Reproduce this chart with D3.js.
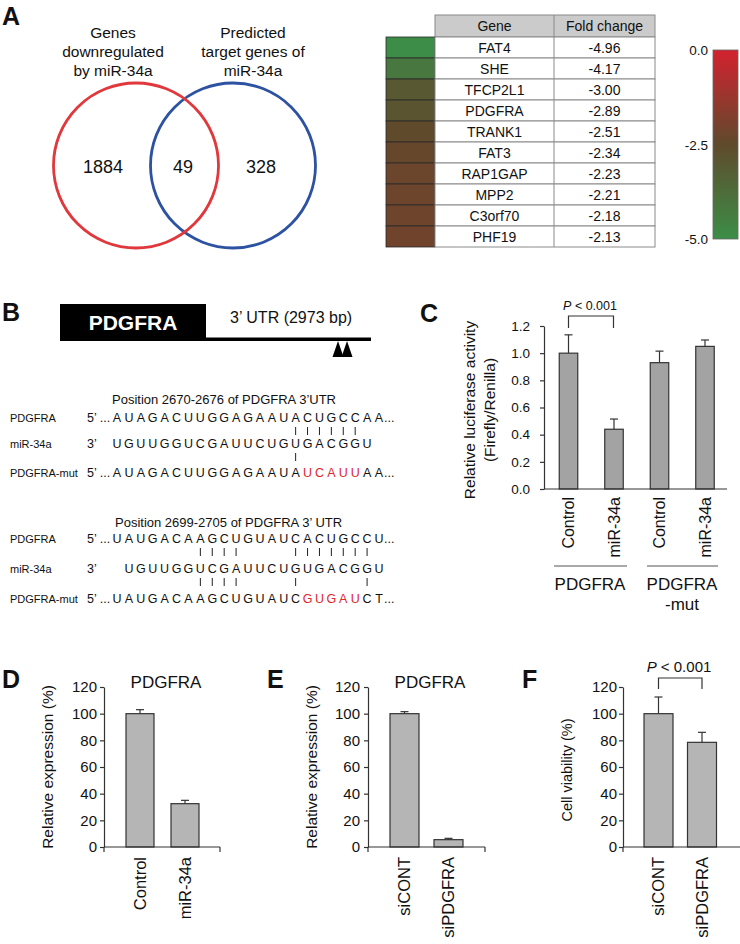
<!DOCTYPE html>
<html><head><meta charset="utf-8">
<script src="https://cdn.jsdelivr.net/npm/d3@7"></script>
<style>
body{margin:0;background:#fff}
svg{display:block}
text{font-family:"Liberation Sans",Arial,Helvetica,sans-serif;fill:#111}
</style>
</head><body>
<svg id="fig" width="740" height="944"></svg>
<script>
// ---------------- DATA ----------------
const vennLabels = [["Genes", "downregulated", "by miR-34a"], ["Predicted", "target genes of", "miR-34a"]];
const vennCounts = [1884, 49, 328];

const genes = ["FAT4", "SHE", "TFCP2L1", "PDGFRA", "TRANK1", "FAT3", "RAP1GAP", "MPP2", "C3orf70", "PHF19"];
const foldChanges = [-4.96, -4.17, -3.00, -2.89, -2.51, -2.34, -2.23, -2.21, -2.18, -2.13];
const tableHeader = ["Gene", "Fold change"];
const colorbarTicks = [0.0, -2.5, -5.0];

const site1Title = "Position 2670-2676 of PDGFRA 3\u2019UTR";
const site1Target = "AUAGACUUGGAGAAUACUGCCAA";
const site1Mir = "UGUUGGUCGAUUCUGUGACGGU";
const site1Mut = "AUAGACUUGGAGAAUAUCAUUAA";
const site1MutRed = [16, 17, 18, 19, 20];
const site1Pairs = [15, 16, 17, 18, 19, 20];
const site1MutPairs = [15];

const site2Title = "Position 2699-2705 of PDGFRA 3\u2019 UTR";
const site2Target = "UAUGACAAGCUGUAUCACUGCCU";
const site2Mir = "UGUUGGUCGAUUCUGUGACGGU";
const site2Mut = "UAUGACAAGCUGUAUCGUGAUCT";
const site2MutRed = [16, 17, 18, 19, 20];
const site2Pairs = [7, 8, 9, 10, 15, 16, 17, 18, 19, 20, 21];
const site2MutPairs = [7, 8, 9, 10, 15, 21];
const seqRowLabels = ["PDGFRA", "miR-34a", "PDGFRA-mut"];

const lucCategories = ["wt-Control", "wt-miR-34a", "mut-Control", "mut-miR-34a"];
const lucLabels = ["Control", "miR-34a", "Control", "miR-34a"];
const lucValues = [1.00, 0.44, 0.93, 1.05];
const lucErrors = [0.135, 0.075, 0.085, 0.047];
const lucTicks = [0, 0.2, 0.4, 0.6, 0.8, 1.0, 1.2];
const lucGroups = [["PDGFRA"], ["PDGFRA", "-mut"]];

const dCategories = ["Control", "miR-34a"];
const dValues = [100, 32.5];
const dErrors = [3, 2.5];
const eCategories = ["siCONT", "siPDGFRA"];
const eValues = [100, 5.5];
const eErrors = [1.5, 1];
const fCategories = ["siCONT", "siPDGFRA"];
const fValues = [100, 78.5];
const fErrors = [12.5, 7.5];
const pctTicks = [0, 20, 40, 60, 80, 100, 120];

// ---------------- DRAW ----------------
const svg = d3.select("#fig");
const FONT = '"Liberation Sans",Arial,Helvetica,sans-serif';

function panelLetter(t, x, y) {
  svg.append("text").attr("x", x).attr("y", y).attr("font-size", 25).attr("font-weight", "bold").text(t);
}

// ===== Panel A: Venn =====
panelLetter("A", 2, 25);
const vx = d3.scaleLinear().domain([0, 1]).range([136, 233]);
const vr = 82.5, vcy = 165.5;
[[1, "#2e52a2"], [0, "#e0383c"]].forEach(([i, c]) => {
  svg.append("circle").attr("cx", vx(i)).attr("cy", vcy).attr("r", vr)
    .attr("fill", "none").attr("stroke", c).attr("stroke-width", 2.8);
});
[113, 253].forEach((cx, k) => {
  vennLabels[k].forEach((line, j) => {
    svg.append("text").attr("x", cx).attr("y", 38 + j * 19).attr("text-anchor", "middle")
      .attr("font-size", 15.5).text(line);
  });
});
const vennNumPos = [-0.34, 0.485, 1.29];
vennCounts.forEach((n, i) => {
  svg.append("text").attr("x", vx(vennNumPos[i])).attr("y", 173).attr("text-anchor", "middle")
    .attr("font-size", 18).text(n);
});

// ===== Table =====
const rowY = d3.scaleBand().domain(genes).range([37, 247]);
const colEdges = [435, 554, 655];
const swX0 = 386, swX1 = 435;
const heat = d3.scaleLinear().domain([-5, -2.5, 0]).range(["#3c8e48", "#5f4a2c", "#d3222f"]);
svg.append("rect").attr("x", colEdges[0]).attr("y", 15).attr("width", colEdges[2] - colEdges[0]).attr("height", 22)
  .attr("fill", "#cbcbcb").attr("stroke", "#8a8a8a").attr("stroke-width", 1);
tableHeader.forEach((h, i) => {
  svg.append("text").attr("x", (colEdges[i] + colEdges[i + 1]) / 2).attr("y", 31).attr("text-anchor", "middle")
    .attr("font-size", 14).text(h);
});
genes.forEach((g, i) => {
  const y = rowY(g), h = rowY.bandwidth();
  svg.append("rect").attr("x", swX0).attr("y", y).attr("width", swX1 - swX0).attr("height", h)
    .attr("fill", heat(foldChanges[i])).attr("stroke", "#2a2a2a").attr("stroke-width", 0.8);
  svg.append("rect").attr("x", colEdges[0]).attr("y", y).attr("width", colEdges[2] - colEdges[0]).attr("height", h)
    .attr("fill", "#fff").attr("stroke", "#8a8a8a").attr("stroke-width", 1);
  svg.append("text").attr("x", (colEdges[0] + colEdges[1]) / 2).attr("y", y + h / 2 + 5).attr("text-anchor", "middle")
    .attr("font-size", 14).text(g);
  svg.append("text").attr("x", (colEdges[1] + colEdges[2]) / 2).attr("y", y + h / 2 + 5).attr("text-anchor", "middle")
    .attr("font-size", 14).text(foldChanges[i].toFixed(2));
});
svg.append("line").attr("x1", colEdges[1]).attr("x2", colEdges[1]).attr("y1", 15).attr("y2", 247)
  .attr("stroke", "#8a8a8a").attr("stroke-width", 1);

// colorbar
const cbY = d3.scaleLinear().domain([0, -5]).range([50, 239]);
const defs = svg.append("defs");
const grad = defs.append("linearGradient").attr("id", "cb").attr("x1", 0).attr("y1", 0).attr("x2", 0).attr("y2", 1);
d3.range(0, 1.0001, 0.1).forEach(t => {
  grad.append("stop").attr("offset", t).attr("stop-color", heat(-5 * t));
});
svg.append("rect").attr("x", 713).attr("y", cbY(0)).attr("width", 25).attr("height", cbY(-5) - cbY(0))
  .attr("fill", "url(#cb)").attr("stroke", "#666").attr("stroke-width", 0.8);
colorbarTicks.forEach(t => {
  svg.append("text").attr("x", 708).attr("y", cbY(t) + 5).attr("text-anchor", "end").attr("font-size", 13.5).text(t.toFixed(1));
});

// ===== Panel B =====
panelLetter("B", 2, 321);
svg.append("rect").attr("x", 60).attr("y", 304).attr("width", 146).attr("height", 37).attr("fill", "#000");
svg.append("text").attr("x", 133).attr("y", 330).attr("text-anchor", "middle").attr("font-size", 21)
  .attr("font-weight", "bold").style("fill", "#fff").text("PDGFRA");
svg.append("rect").attr("x", 206).attr("y", 337.5).attr("width", 165).attr("height", 3.5).attr("fill", "#000");
svg.append("text").attr("x", 230).attr("y", 323).attr("font-size", 16).text("3\u2019 UTR (2973 bp)");
[338, 347].forEach(ax => {
  svg.append("path").attr("d", `M${ax},341 L${ax - 5.5},357 L${ax + 5.5},357 Z`).attr("fill", "#000");
});

const sx = d3.scaleLinear().domain([0, 22]).range([117, 379]);
function seqBlock(o) {
  svg.append("text").attr("x", o.titleX).attr("y", o.titleY).attr("font-size", 13).text(o.title);
  const ys = o.rowY;
  seqRowLabels.forEach((l, i) => {
    svg.append("text").attr("x", 10).attr("y", ys[i]).attr("font-size", 11).text(l);
  });
  svg.append("text").attr("x", 87).attr("y", ys[0]).attr("font-size", 12.5).text("5\u2019 ...");
  svg.append("text").attr("x", 87).attr("y", ys[1]).attr("font-size", 12.5).text("3\u2019");
  svg.append("text").attr("x", 87).attr("y", ys[2]).attr("font-size", 12.5).text("5\u2019 ...");
  const drawSeq = (s, y, off, red) => {
    s.split("").forEach((ch, i) => {
      svg.append("text").attr("x", sx(i + off)).attr("y", y).attr("text-anchor", "middle").attr("font-size", 12.5)
        .style("fill", red && red.includes(i) ? "#e0262b" : "#111").text(ch);
    });
  };
  drawSeq(o.target, ys[0], 0);
  svg.append("text").attr("x", sx(22) + 5).attr("y", ys[0]).attr("font-size", 12.5).text("...");
  drawSeq(o.mir, ys[1], o.mirOffset);
  drawSeq(o.mut, ys[2], 0, o.red);
  svg.append("text").attr("x", sx(22) + 5).attr("y", ys[2]).attr("font-size", 12.5).text("...");
  o.pairs.forEach(i => {
    svg.append("line").attr("x1", sx(i)).attr("x2", sx(i)).attr("y1", ys[0] + 5).attr("y2", ys[0] + 13)
      .attr("stroke", "#222").attr("stroke-width", 1);
  });
  o.mutPairs.forEach(i => {
    svg.append("line").attr("x1", sx(i)).attr("x2", sx(i)).attr("y1", ys[1] + 5).attr("y2", ys[1] + 13)
      .attr("stroke", "#222").attr("stroke-width", 1);
  });
}
seqBlock({ title: site1Title, titleX: 112, titleY: 404, rowY: [422, 448, 477], target: site1Target, mir: site1Mir,
  mut: site1Mut, red: site1MutRed, pairs: site1Pairs, mutPairs: site1MutPairs, mirOffset: 0 });
seqBlock({ title: site2Title, titleX: 115, titleY: 527, rowY: [543, 573, 603], target: site2Target, mir: site2Mir,
  mut: site2Mut, red: site2MutRed, pairs: site2Pairs, mutPairs: site2MutPairs, mirOffset: 1 });

// ===== Bar panel helper =====
function barPanel(o) {
  const y = d3.scaleLinear().domain([0, o.max]).range([o.yBottom, o.yTop]);
  const x = d3.scalePoint().domain(o.cats).range(o.centerRange);
  const g = svg.append("g");
  g.selectAll("rect.bar").data(o.values).join("rect").attr("class", "bar")
    .attr("x", (d, i) => x(o.cats[i]) - o.barW / 2).attr("y", d => y(d))
    .attr("width", o.barW).attr("height", d => y(0) - y(d))
    .attr("fill", o.fill).attr("stroke", "#333").attr("stroke-width", 1.2);
  o.values.forEach((v, i) => {
    const cx = x(o.cats[i]), yt = y(v + o.errors[i]);
    g.append("line").attr("x1", cx).attr("x2", cx).attr("y1", y(v)).attr("y2", yt).attr("stroke", "#333").attr("stroke-width", 1.2);
    g.append("line").attr("x1", cx - 4).attr("x2", cx + 4).attr("y1", yt).attr("y2", yt).attr("stroke", "#333").attr("stroke-width", 1.2);
  });
  const ax = g.append("g").attr("transform", `translate(${o.axisX},0)`)
    .call(d3.axisLeft(y).tickValues(o.ticks).tickFormat(o.fmt).tickSize(4).tickSizeOuter(0).tickPadding(o.pad));
  ax.attr("font-family", FONT).attr("font-size", o.tickFont);
  ax.selectAll("text").style("fill", "#111");
  ax.selectAll("line,path").attr("stroke", "#333").attr("stroke-width", 1.2);
  g.append("line").attr("x1", o.axisX).attr("x2", o.xEnd).attr("y1", y(0)).attr("y2", y(0)).attr("stroke", "#333").attr("stroke-width", 1.2);
  (o.endTicks || []).forEach(tx => {
    g.append("line").attr("x1", tx).attr("x2", tx).attr("y1", y(0)).attr("y2", y(0) + 5).attr("stroke", "#333").attr("stroke-width", 1.2);
  });
  o.labels.forEach((l, i) => {
    g.append("text").attr("transform", `translate(${x(o.cats[i])},${o.labelTop}) rotate(-90)`)
      .attr("text-anchor", "end").attr("dy", "0.35em").attr("font-size", o.labelFont).text(l);
  });
  o.ylabel.forEach((l, j) => {
    g.append("text").attr("transform", `translate(${o.ylabelX[j]},${o.ylabelY}) rotate(-90)`)
      .attr("text-anchor", "middle").attr("dy", "0.35em").attr("font-size", o.ylabelFont).text(l);
  });
  return { x, y };
}

function pBracket(x1, x2, yTop, yLeg, tx, ty, fs) {
  svg.append("path").attr("d", `M${x1},${yLeg} V${yTop} H${x2} V${yLeg}`).attr("fill", "none")
    .attr("stroke", "#333").attr("stroke-width", 1.2);
  const t = svg.append("text").attr("x", tx).attr("y", ty).attr("text-anchor", "middle").attr("font-size", fs);
  t.append("tspan").attr("font-style", "italic").text("P");
  t.append("tspan").text(" < 0.001");
}

// ===== Panel C =====
panelLetter("C", 420, 322);
barPanel({
  max: 1.2, yBottom: 489, yTop: 326, cats: lucCategories, labels: lucLabels, values: lucValues, errors: lucErrors,
  centerRange: [568.5, 705], barW: 18.5, fill: "#a3a3a3", axisX: 544, xEnd: 727, ticks: lucTicks,
  fmt: d3.format(".1f"), tickFont: 13.5, pad: 10, labelTop: 497, labelFont: 16,
  ylabel: ["Relative luciferase activity", "(Firefly/Renilla)"], ylabelX: [470, 490], ylabelY: 410, ylabelFont: 15.5
});
pBracket(568.5, 613.5, 316, 328, 590, 310, 12.5);
[[554, 627], [647, 718]].forEach(([a, b]) => {
  svg.append("line").attr("x1", a).attr("x2", b).attr("y1", 566).attr("y2", 566).attr("stroke", "#555").attr("stroke-width", 1.2);
});
lucGroups.forEach((lines, k) => {
  const cx = k === 0 ? 590 : 682;
  lines.forEach((l, j) => {
    svg.append("text").attr("x", cx).attr("y", 590 + j * 20).attr("text-anchor", "middle").attr("font-size", 17).text(l);
  });
});

// ===== Panel D =====
panelLetter("D", 2, 688);
svg.append("text").attr("x", 166).attr("y", 688).attr("text-anchor", "middle").attr("font-size", 17).text("PDGFRA");
barPanel({
  max: 120, yBottom: 847, yTop: 687, cats: dCategories, labels: dCategories, values: dValues, errors: dErrors,
  centerRange: [140, 185], barW: 28, fill: "#b5b5b5", axisX: 104, xEnd: 220, endTicks: [104, 220], ticks: pctTicks,
  fmt: d3.format("d"), tickFont: 15, pad: 3, labelTop: 857, labelFont: 16.5,
  ylabel: ["Relative expression (%)"], ylabelX: [48], ylabelY: 767, ylabelFont: 15.5
});

// ===== Panel E =====
panelLetter("E", 267, 688);
svg.append("text").attr("x", 430).attr("y", 688).attr("text-anchor", "middle").attr("font-size", 17).text("PDGFRA");
barPanel({
  max: 120, yBottom: 847, yTop: 687, cats: eCategories, labels: eCategories, values: eValues, errors: eErrors,
  centerRange: [404.5, 448.5], barW: 29, fill: "#b5b5b5", axisX: 368, xEnd: 485, endTicks: [368, 485], ticks: pctTicks,
  fmt: d3.format("d"), tickFont: 15, pad: 4, labelTop: 857, labelFont: 16.5,
  ylabel: ["Relative expression (%)"], ylabelX: [312], ylabelY: 767, ylabelFont: 15.5
});

// ===== Panel F =====
panelLetter("F", 522, 688);
barPanel({
  max: 120, yBottom: 847, yTop: 687, cats: fCategories, labels: fCategories, values: fValues, errors: fErrors,
  centerRange: [658.5, 702], barW: 29, fill: "#b5b5b5", axisX: 623, xEnd: 740, endTicks: [623], ticks: pctTicks,
  fmt: d3.format("d"), tickFont: 15, pad: 2, labelTop: 857, labelFont: 16.5,
  ylabel: ["Cell viability (%)"], ylabelX: [567], ylabelY: 770, ylabelFont: 14.5
});
pBracket(658.5, 702, 678, 689, 679, 672, 15);
</script>
</body></html>
